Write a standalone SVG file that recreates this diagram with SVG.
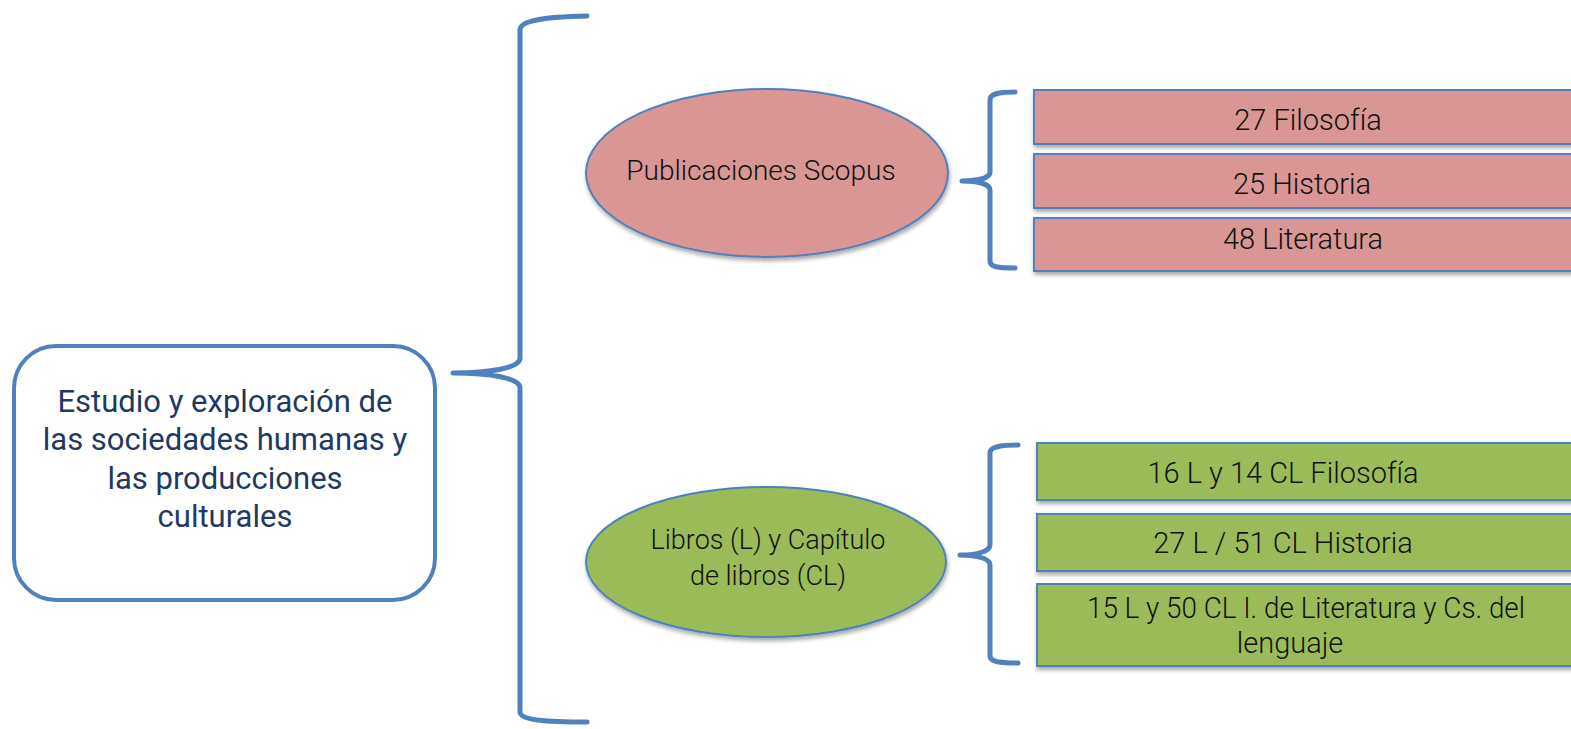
<svg xmlns="http://www.w3.org/2000/svg" width="1571" height="729" viewBox="0 0 1571 729">
<style>
.br{fill:none;stroke:#4f81bd;stroke-width:5;stroke-linecap:round;stroke-linejoin:round}
.t{font-family:Roboto,"Liberation Sans",sans-serif;font-weight:300;fill:#111;text-anchor:middle}
.main{font-family:Roboto,"Liberation Sans",sans-serif;font-weight:400;fill:#1f3864;text-anchor:middle;font-size:31px}
.pk{fill:#d99694;stroke:#4f81bd;stroke-width:2}
.gr{fill:#9bbb59;stroke:#4f81bd;stroke-width:2}
</style>
<defs>
<filter id="sh" x="-10%" y="-20%" width="120%" height="150%">
<feDropShadow dx="1" dy="3" stdDeviation="2" flood-color="#000" flood-opacity="0.35"/>
</filter>
</defs>
<g id="connectors">
<path class="br" d="M587,16 C545,17 520,20 520,30 L520,358 C520,368 490,373 453,373 C490,373 520,378 520,388 L520,712 C520,720 545,722 587,722"/>
<path class="br" d="M1015,92 C998,92 990,94 990,100 L990,172 C990,178 978,181 962,181 C978,181 990,184 990,190 L990,261 C990,267 998,268 1015,268"/>
<path class="br" d="M1018,445 C1000,445 990,447 990,453 L990,545 C990,551 978,555 960,555 C978,555 990,559 990,565 L990,656 C990,662 1000,663 1018,663"/>
</g>
<g id="root">
<rect x="14" y="346" width="421" height="254" rx="42" fill="#fff" stroke="#4f81bd" stroke-width="4"/>
<text class="main" x="225" y="412">Estudio y exploración de</text>
<text class="main" x="225" y="450">las sociedades humanas y</text>
<text class="main" x="225" y="489">las producciones</text>
<text class="main" x="225" y="527">culturales</text>
</g>
<g id="scopus">
<ellipse class="pk" filter="url(#sh)" cx="767" cy="173" rx="181" ry="84"/>
<text class="t" x="761" y="180" font-size="28">Publicaciones Scopus</text>
</g>
<g id="libros">
<ellipse class="gr" filter="url(#sh)" cx="766" cy="562" rx="180" ry="75"/>
<text class="t" x="768" y="549" font-size="27">Libros (L) y Capítulo</text>
<text class="t" x="768" y="585" font-size="27">de libros (CL)</text>
</g>
<g id="s1">
<rect class="pk" filter="url(#sh)" x="1034" y="90" width="560" height="54"/>
<text class="t" x="1308" y="130" font-size="29">27 Filosofía</text>
</g>
<g id="s2">
<rect class="pk" filter="url(#sh)" x="1034" y="154" width="560" height="54"/>
<text class="t" x="1302" y="194" font-size="29">25 Historia</text>
</g>
<g id="s3">
<rect class="pk" filter="url(#sh)" x="1034" y="218" width="560" height="53"/>
<text class="t" x="1303" y="249" font-size="29">48 Literatura</text>
</g>
<g id="l1">
<rect class="gr" filter="url(#sh)" x="1037" y="443" width="560" height="57"/>
<text class="t" x="1283" y="483" font-size="29">16 L y 14 CL Filosofía</text>
</g>
<g id="l2">
<rect class="gr" filter="url(#sh)" x="1037" y="514" width="560" height="57"/>
<text class="t" x="1283" y="553" font-size="29">27 L / 51 CL Historia</text>
</g>
<g id="l3">
<rect class="gr" filter="url(#sh)" x="1037" y="584" width="560" height="82"/>
<text class="t" x="1306" y="618" font-size="29" textLength="438" lengthAdjust="spacingAndGlyphs">15 L y 50 CL I. de Literatura y Cs. del</text>
<text class="t" x="1290" y="653" font-size="29">lenguaje</text>
</g>
</svg>
